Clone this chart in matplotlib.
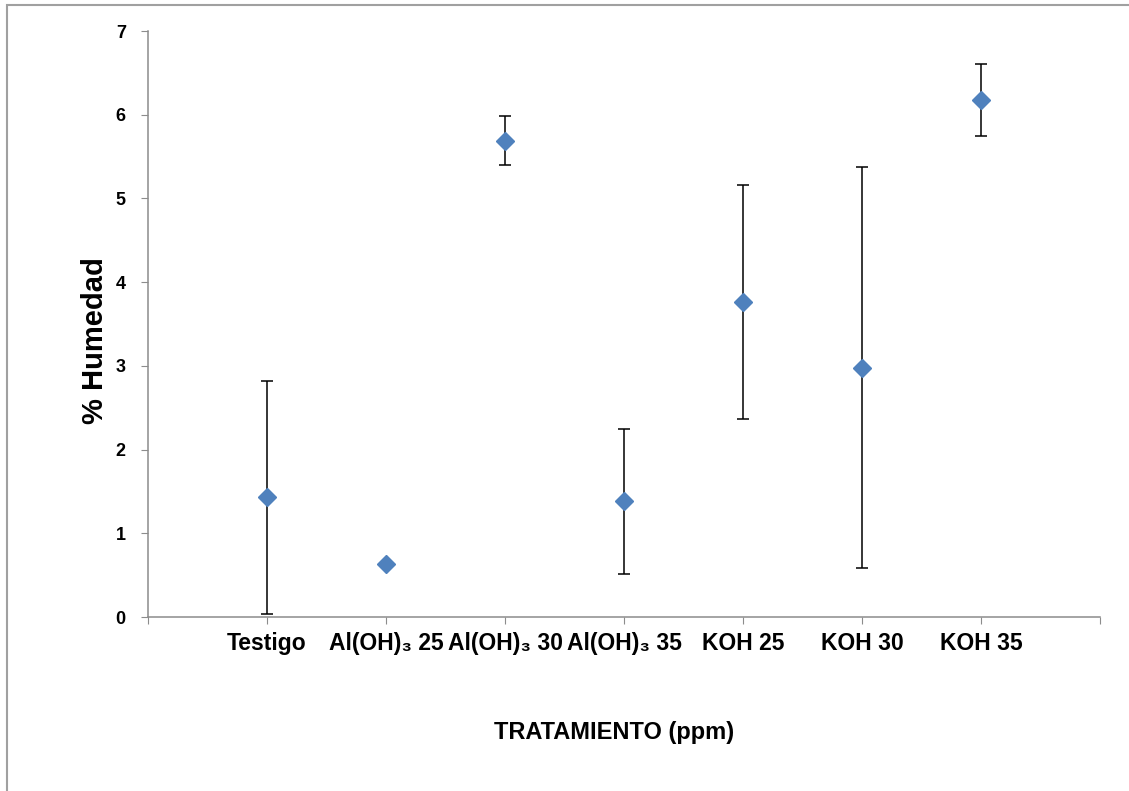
import numpy as np
import matplotlib.pyplot as plt
from matplotlib.patches import Rectangle

# humedad media por tratamiento y su desviación
tratamientos = ['Testigo', 'Al(OH)₃ 25', 'Al(OH)₃ 30', 'Al(OH)₃ 35',
                'KOH 25', 'KOH 30', 'KOH 35']
humedad = [1.43, 0.63, 5.69, 1.38, 3.76, 2.98, 6.18]
desviacion = [1.39, 0.0, 0.29, 0.87, 1.40, 2.39, 0.43]

plt.rcParams['font.family'] = ['Liberation Sans', 'DejaVu Sans']

fig = plt.figure(figsize=(11.29, 7.91), dpi=100)
ax = fig.add_axes([148 / 1129, 1 - 617 / 791, (1100 - 148) / 1129, (617 - 31) / 791])

x = np.arange(1, len(tratamientos) + 1)
ax.errorbar(x, humedad, yerr=desviacion, fmt='none', ecolor='black',
            elinewidth=1.1, capsize=4, capthick=1.1, zorder=2)
ax.plot(x, humedad, linestyle='none', marker='D', markersize=8.7,
        color='#4F81BD', zorder=3)

ax.set_xlim(0, len(tratamientos) + 1)
ax.set_ylim(0, 7)
ax.set_xticks(np.arange(0, len(tratamientos) + 2))
ax.set_xticklabels([''] + tratamientos + [''], fontsize=16.5, fontweight='bold')
ax.set_yticks(range(0, 8))
ax.set_yticklabels([str(v) for v in range(0, 8)], fontsize=13, fontweight='bold')

for s in ['top', 'right']:
    ax.spines[s].set_visible(False)
for s in ['left', 'bottom']:
    ax.spines[s].set_color('#8c8c8c')
    ax.spines[s].set_linewidth(1.1)
ax.tick_params(axis='x', length=5, color='#8c8c8c', pad=6)
ax.tick_params(axis='y', length=5, color='#8c8c8c', pad=11)

fig.text(95 / 1129, 1 - 341 / 791, '% Humedad', rotation=90, ha='center', va='center',
         fontsize=21, fontweight='bold')
fig.text(614 / 1129, 1 - 732 / 791, 'TRATAMIENTO (ppm)', ha='center', va='center',
         fontsize=17, fontweight='bold')

# marco del gráfico
fig.patches.append(Rectangle((7 / 1129, -0.05), 1.1, 1 - 5 / 791 + 0.05,
                             transform=fig.transFigure, fill=False,
                             edgecolor='#a0a0a0', linewidth=1.5))

fig.savefig('out.png', dpi=100)
